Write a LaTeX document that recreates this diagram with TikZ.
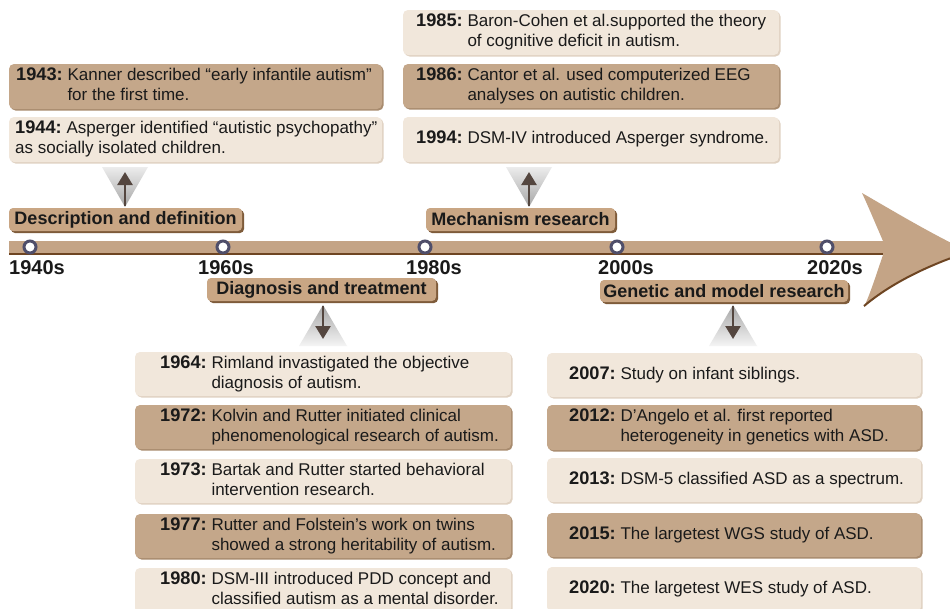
\documentclass[tikz,border=0pt]{standalone}
\usepackage{fontspec}
\setmainfont{Liberation Sans}
\usetikzlibrary{arrows.meta}
\definecolor{darkbox}{HTML}{C4A78A}
\definecolor{darkboxshadow}{HTML}{A88B6E}
\definecolor{lightbox}{HTML}{F1E7DB}
\definecolor{lightboxshadow}{HTML}{E0D2C2}
\definecolor{cattan}{HTML}{C9A684}
\definecolor{catshadow}{HTML}{7E5B3A}
\definecolor{barfill}{HTML}{C4A486}
\definecolor{baredge}{HTML}{6E4522}
\definecolor{ringcol}{HTML}{4F4E6A}
\definecolor{arrowcol}{HTML}{54463F}
\definecolor{txt}{HTML}{1A1A1A}
\newcommand\yb[1]{{\fontsize{18.2}{20}\selectfont\bfseries #1:}}
\newcommand\twol[3]{\begin{tabular}{@{}l@{\hspace{0.28em}}l@{}}\yb{#1}&#2\\&#3\end{tabular}}
\newcommand\twolf[3]{\begin{tabular}{@{}l@{\hspace{0.28em}}l@{}}\yb{#1}&#2\\\multicolumn{2}{@{}l@{}}{#3}\end{tabular}}
\newcommand\onel[2]{\begin{tabular}{@{}l@{\hspace{0.28em}}l@{}}\yb{#1}&#2\end{tabular}}
\newcommand\evt[8]{%
  \fill[#6shadow, rounded corners=5pt] ({#2+1.5},{#3+1.5}) rectangle ({#4+1.5},{#5+1.5});
  \node[evbox, fill=#6, minimum width={((#4)-(#2))*1pt}, minimum height={((#5)-(#3))*1pt}] (#1) at ({((#2)+(#4))/2},{((#3)+(#5))/2}) {};
  \node[evtext, anchor=west] (#1t) at (#7, {((#3)+(#5))/2}) {#8};
}
\newcommand\cat[6]{%
  \fill[catshadow, rounded corners=4pt] ({#2+2},{#3+2}) rectangle ({#4+2},{#5+2});
  \node[catbox, minimum width={((#4)-(#2))*1pt}, minimum height={((#5)-(#3))*1pt}] (#1) at ({((#2)+(#4))/2},{((#3)+(#5))/2}) {#6};
}
\begin{document}
\begin{tikzpicture}[x=1pt,y=-1pt,
  evbox/.style={rounded corners=5pt, inner sep=0pt, draw=none},
  evtext/.style={inner sep=0pt, text=txt, font=\fontsize{17}{20}\selectfont},
  catbox/.style={rounded corners=4pt, inner sep=0pt, fill=cattan, text=txt, font=\fontsize{18}{20}\selectfont\bfseries},
  ring/.style={circle, draw=ringcol, line width=3pt, fill=white, minimum size=12pt, inner sep=0pt},
  yearlab/.style={inner sep=0pt, text=txt, font=\fontsize{20}{22}\selectfont\bfseries},
  arr/.style={draw=arrowcol, line width=2.6pt, -{Triangle[width=15pt,length=13pt]}}
]
\useasboundingbox (0,0) rectangle (950,608);
\fill[white] (0,0) rectangle (950,608);

% ---- timeline bar and arrowhead
\fill[barfill] (9,241) rectangle (884,255);
\draw[baredge, line width=2pt] (9,254) -- (884,254);
\fill[barfill] (883,241) .. controls (876,225) and (869,208) .. (862,193)
  .. controls (895,212) and (935,236) .. (968,251)
  .. controls (935,262) and (895,280) .. (864,307)
  .. controls (871,292) and (877,272) .. (883,255) -- cycle;
\draw[baredge, line width=2pt] (864,306) .. controls (895,280) and (935,263) .. (968,252);

% ---- decade rings and labels
\node[ring] (r1) at (30,247) {};
\node[ring] (r2) at (223,247) {};
\node[ring] (r3) at (425,247) {};
\node[ring] (r4) at (617,247) {};
\node[ring] (r5) at (827,247) {};
\node[yearlab, anchor=west] (y1) at (9,268) {1940s};
\node[yearlab, anchor=west] (y2) at (198,268) {1960s};
\node[yearlab, anchor=west] (y3) at (406,268) {1980s};
\node[yearlab, anchor=west] (y4) at (598,268) {2000s};
\node[yearlab, anchor=west] (y5) at (807,268) {2020s};

% ---- shaded pointer triangles
\shade[top color=gray!15, bottom color=gray!70] (102,167) -- (148,167) -- (125,207) -- cycle;
\shade[top color=gray!15, bottom color=gray!70] (506,167) -- (552,167) -- (529,207) -- cycle;
\shade[top color=gray!70, bottom color=gray!8] (323,305) -- (347,346) -- (299,346) -- cycle;
\shade[top color=gray!70, bottom color=gray!8] (733,305) -- (757,346) -- (709,346) -- cycle;

% ---- category boxes
\cat{desc}{9}{208}{242}{231}{Description and definition}
\cat{mech}{426}{208}{615}{231}{Mechanism research}
\cat{diag}{207}{278}{436}{301}{Diagnosis and treatment}
\cat{gene}{600}{280}{848}{302}{Genetic and model research}

% ---- pointer arrows
\coordinate (p1s) at (125,206);
\coordinate (p1e) at (125,172);
\coordinate (p2s) at (529,206);
\coordinate (p2e) at (529,172);
\coordinate (p3s) at (323,306);
\coordinate (p3e) at (323,339);
\coordinate (p4s) at (733,306);
\coordinate (p4e) at (733,339);
\draw[arr] (p1s) -- (p1e);
\draw[arr] (p2s) -- (p2e);
\draw[arr] (p3s) -- (p3e);
\draw[arr] (p4s) -- (p4e);

% ---- top left events
\evt{e1943}{9}{64}{382}{109}{darkbox}{16}{\twol{1943}{Kanner described “early infantile autism”}{for the first time.}}
\evt{e1944}{9}{117}{382}{162}{lightbox}{15}{\twolf{1944}{Asperger identified “autistic psychopathy”}{as socially isolated children.}}

% ---- top right events
\evt{e1985}{403}{10}{779}{55}{lightbox}{416}{\twol{1985}{Baron-Cohen et al.supported the theory}{of cognitive deficit in autism.}}
\evt{e1986}{403}{64}{779}{108}{darkbox}{416}{\twol{1986}{Cantor et al. used computerized EEG}{analyses on autistic children.}}
\evt{e1994}{403}{117}{779}{162}{lightbox}{416}{\onel{1994}{DSM-IV introduced Asperger syndrome.}}

% ---- bottom left events
\evt{e1964}{135}{352}{511}{396}{lightbox}{160}{\twol{1964}{Rimland invastigated the objective}{diagnosis of autism.}}
\evt{e1972}{135}{405}{511}{449}{darkbox}{160}{\twol{1972}{Kolvin and Rutter initiated clinical}{phenomenological research of autism.}}
\evt{e1973}{135}{459}{511}{503}{lightbox}{160}{\twol{1973}{Bartak and Rutter started behavioral}{intervention research.}}
\evt{e1977}{135}{514}{511}{558}{darkbox}{160}{\twol{1977}{Rutter and Folstein’s work on twins}{showed a strong heritability of autism.}}
\evt{e1980}{135}{568}{511}{613}{lightbox}{160}{\twol{1980}{DSM-III introduced PDD concept and}{classified autism as a mental disorder.}}

% ---- bottom right events
\evt{e2007}{547}{353}{921}{397}{lightbox}{569}{\onel{2007}{Study on infant siblings.}}
\evt{e2012}{547}{405}{921}{450}{darkbox}{569}{\twol{2012}{D’Angelo et al. first reported}{heterogeneity in genetics with ASD.}}
\evt{e2013}{547}{458}{921}{502}{lightbox}{569}{\onel{2013}{DSM-5 classified ASD as a spectrum.}}
\evt{e2015}{547}{513}{921}{557}{darkbox}{569}{\onel{2015}{The largetest WGS study of ASD.}}
\evt{e2020}{547}{567}{921}{612}{lightbox}{569}{\onel{2020}{The largetest WES study of ASD.}}
\end{tikzpicture}
\end{document}
